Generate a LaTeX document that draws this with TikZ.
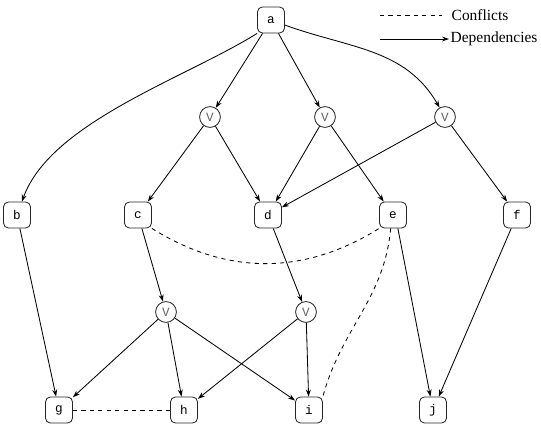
\documentclass[tikz,border=0pt]{standalone}
\usepackage{fontspec}
\setmainfont{Liberation Serif}
\setmonofont{Liberation Mono}
\usetikzlibrary{arrows.meta}

\begin{document}
\begin{tikzpicture}[
  >={Stealth[length=5pt,width=3.5pt]},
  x=0.025cm, y=-0.025cm,
  task/.style={draw=black!85, semithick, rounded corners=3.5pt, minimum width=0.675cm,
    minimum height=0.65cm, inner sep=0pt, font=\ttfamily\small},
  orgate/.style={circle, draw=black!85, semithick, minimum size=0.52cm, inner sep=0pt,
    font=\ttfamily\small, text=black!60},
  dep/.style={->, semithick},
  conflict/.style={dashed, semithick},
  legend/.style={anchor=west, inner sep=1pt, font=\fontsize{11}{13}\selectfont}
]
  \useasboundingbox (0,0) rectangle (541,426);

  % tasks
  \node[task] (a) at (271,20) {a};
  \node[task] (b) at (17,215) {b};
  \node[task] (c) at (138,215) {c};
  \node[task] (d) at (268,215) {d};
  \node[task] (e) at (393,215) {e};
  \node[task] (f) at (517,215) {f};
  \node[task] (g) at (59,410) {g};
  \node[task] (h) at (184,410) {h};
  \node[task] (i) at (309,410) {i};
  \node[task] (j) at (433,410) {j};

  % or gates
  \node[orgate] (or1) at (210,117) {V};
  \node[orgate] (or2) at (325,117) {V};
  \node[orgate] (or3) at (445,117) {V};
  \node[orgate] (or4) at (166,312) {V};
  \node[orgate] (or5) at (306,312) {V};

  % dependencies
  \draw[dep] (a.south west) to[out=-148,in=70,looseness=0.75] (b.70);
  \draw[dep] (a) -- (or1);
  \draw[dep] (a) -- (or2);
  \draw[dep] (a) to[out=-20,in=120] (or3);
  \draw[dep] (or1) -- (c);
  \draw[dep] (or1) -- (d);
  \draw[dep] (or2) -- (d);
  \draw[dep] (or2) -- (e);
  \draw[dep] (or3) -- (d);
  \draw[dep] (or3) -- (f);
  \draw[dep] (b) -- (g);
  \draw[dep] (c) -- (or4);
  \draw[dep] (d) -- (or5);
  \draw[dep] (e.-70) -- (j);
  \draw[dep] (f) -- (j);
  \draw[dep] (or4) -- (g);
  \draw[dep] (or4) -- (h);
  \draw[dep] (or4) -- (i);
  \draw[dep] (or5) -- (h);
  \draw[dep] (or5) -- (i);

  % conflicts
  \draw[conflict] (c.south east) to[out=-32,in=-148] (e.south west);
  \draw[conflict] (e.-100) to[out=-95,in=75] (i.north east);
  \draw[conflict] (g) -- (h);

  % legend
  \node[legend] (lconf) at (450,15) {Conflicts};
  \node[legend] (ldep) at (449,39) {Dependencies};
  \coordinate (lconfstart) at (380,15);
  \coordinate (ldepstart) at (380,39);
  \draw[conflict] (lconfstart) -- ([xshift=-6pt]lconf.west);
  \draw[dep] (ldepstart) -- (ldep.west);
\end{tikzpicture}
\end{document}
